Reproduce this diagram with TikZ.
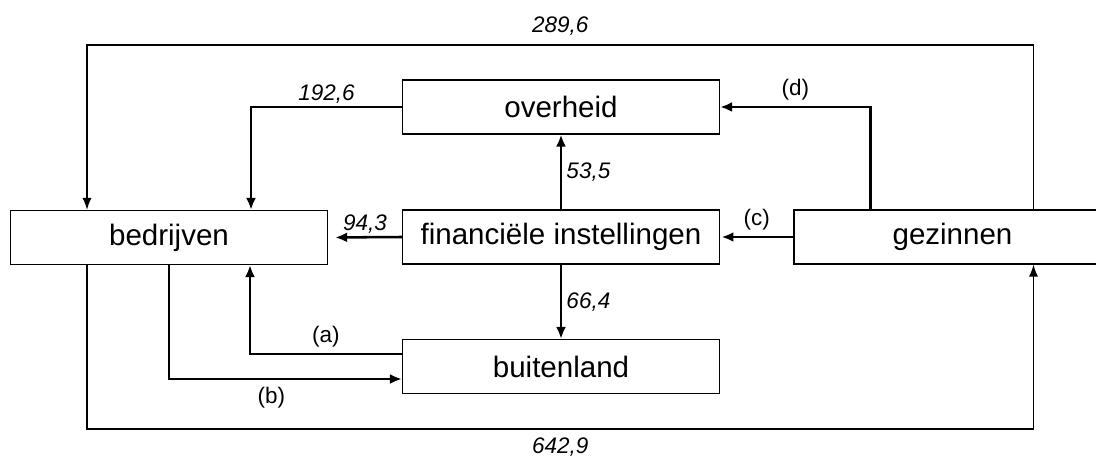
\documentclass[tikz,border=0pt]{standalone}
\usepackage{fontspec}
\setsansfont{Liberation Sans}
\usetikzlibrary{calc,arrows.meta}

\begin{document}
\begin{tikzpicture}[x=0.025cm, y=-0.025cm]

\tikzset{%
    box/.style={draw, line width=0.8pt, minimum width=7.925cm, minimum height=1.35cm, inner sep=0pt, font=\sffamily\fontsize{21}{25}\selectfont},
    flow/.style={-{Latex[length=8.5pt,width=7pt]}, line width=1.8pt},
    bigflow/.style={-{Latex[length=8.5pt,width=6.5pt]}, line width=1.1pt},
    amount/.style={inner sep=2pt, font=\sffamily\itshape\fontsize{16}{19}\selectfont},
    tag/.style={inner sep=2pt, font=\sffamily\fontsize{16}{19}\selectfont},
}

% offset of the side lines from the middle of a box
\def\off{82}

% frame
\clip (0,0) rectangle (1096,457);

% sectors
\node [box] (bed) at (169,237.5) {bedrijven};
\node [box] (fin) at (561,237) {financiële instellingen};
\node [box] (gez) at (952.5,237) {gezinnen};
\node [box] (ovh) at (561,107) {overheid};
\node [box] (buit) at (561,366.5) {buitenland};

% outer flows
\draw [bigflow] ($(gez.north)+(\off-1,0)$) |- ($(bed.north)+(-\off,-165)$)
    node [amount, pos=0.75, above=4pt] {289,6} -- ($(bed.north)+(-\off,0)$);
\draw [bigflow] ($(bed.south)+(-\off,0)$) -- ($(bed.south)+(-\off,164)$) -| ($(gez.south)+(\off-1,0)$)
    node [amount, pos=0.25, below=4pt] {642,9};

% flows round overheid
\draw [flow] (ovh.west) -| ($(bed.north)+(\off,0)$) node [amount, pos=0.25, above] {192,6};
\draw [flow] ($(gez.north)+(-\off,0)$) |- (ovh.east) node [tag, pos=0.75, above=2pt] {(d)};
\draw [flow] (fin.north) -- (ovh.south) node [amount, midway, right=1pt] {53,5};

% flows through financiële instellingen
\draw [flow, shorten >=5pt] (fin.west) -- (bed.east) node [amount, midway, above] {94,3};
\draw [flow, shorten >=1pt] (gez.west) -- (fin.east) node [tag, midway, above=2pt] {(c)};
\draw [flow] (fin.south) -- (buit.north) node [amount, midway, right=1pt] {66,4};

% flows with buitenland
\draw [flow] ($(buit.west)+(0,-12.5)$) -| ($(bed.south)+(\off-1,0)$) node [tag, pos=0.25, above=2pt] {(a)};
\draw [flow] (bed.south) |- ($(buit.west)+(0,12.5)$) node [tag, pos=0.72, below=3pt] {(b)};

\end{tikzpicture}
\end{document}
